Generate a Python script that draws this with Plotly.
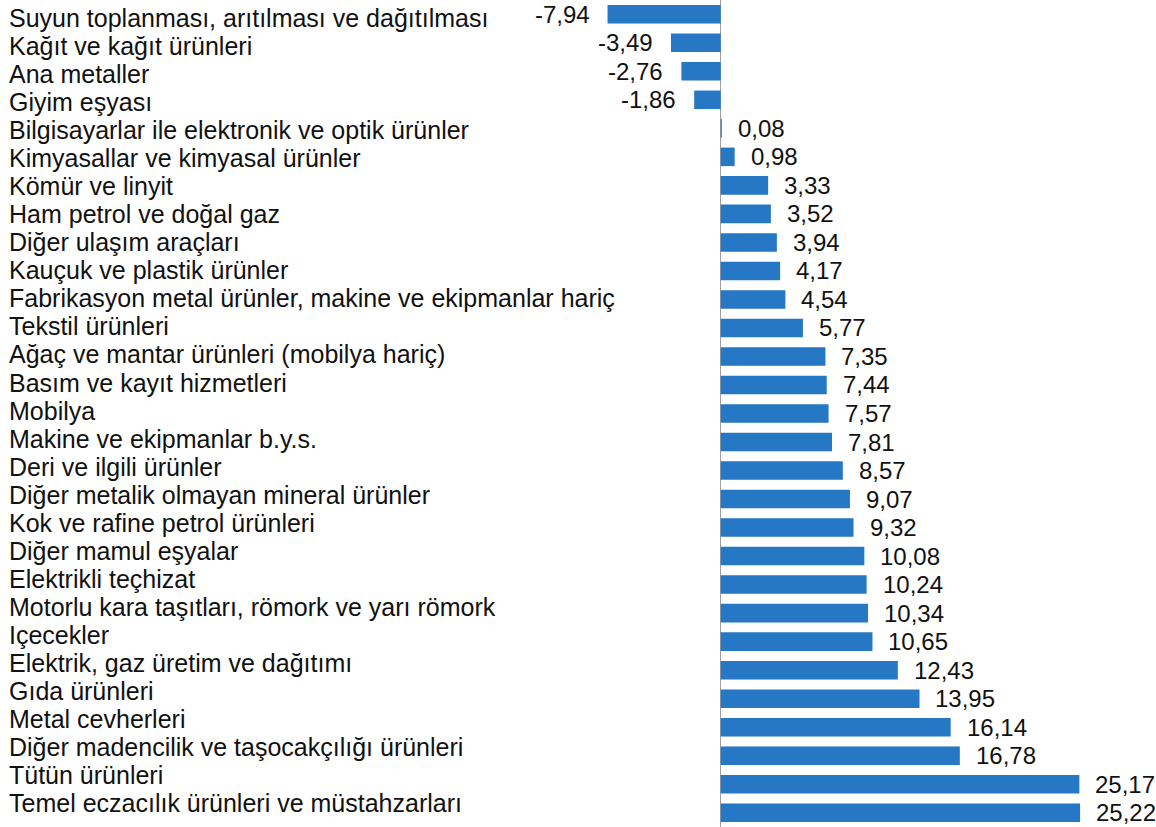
import plotly.graph_objects as go

categories = [
    "Suyun toplanması, arıtılması ve dağıtılması",
    "Kağıt ve kağıt ürünleri",
    "Ana metaller",
    "Giyim eşyası",
    "Bilgisayarlar ile elektronik ve optik ürünler",
    "Kimyasallar ve kimyasal ürünler",
    "Kömür ve linyit",
    "Ham petrol ve doğal gaz",
    "Diğer ulaşım araçları",
    "Kauçuk ve plastik ürünler",
    "Fabrikasyon metal ürünler, makine ve ekipmanlar hariç",
    "Tekstil ürünleri",
    "Ağaç ve mantar ürünleri (mobilya hariç)",
    "Basım ve kayıt hizmetleri",
    "Mobilya",
    "Makine ve ekipmanlar b.y.s.",
    "Deri ve ilgili ürünler",
    "Diğer metalik olmayan mineral ürünler",
    "Kok ve rafine petrol ürünleri",
    "Diğer mamul eşyalar",
    "Elektrikli teçhizat",
    "Motorlu kara taşıtları, römork ve yarı römork",
    "Içecekler",
    "Elektrik, gaz üretim ve dağıtımı",
    "Gıda ürünleri",
    "Metal cevherleri",
    "Diğer madencilik ve taşocakçılığı ürünleri",
    "Tütün ürünleri",
    "Temel eczacılık ürünleri ve müstahzarları",
]
values = [-7.94, -3.49, -2.76, -1.86, 0.08, 0.98, 3.33, 3.52, 3.94, 4.17,
          4.54, 5.77, 7.35, 7.44, 7.57, 7.81, 8.57, 9.07, 9.32, 10.08,
          10.24, 10.34, 10.65, 12.43, 13.95, 16.14, 16.78, 25.17, 25.22]

FONT = "Arial, Liberation Sans, sans-serif"
BAR_COLOR = "#2677C4"
n = len(categories)
idx = list(range(n))

fig = go.Figure()
fig.add_trace(go.Bar(
    x=values, y=idx, orientation="h",
    marker=dict(color=BAR_COLOR, line=dict(width=0)),
    hoverinfo="skip", showlegend=False,
))

annotations = []
# value labels
for i, v in enumerate(values):
    txt = f"{v:.2f}".replace(".", ",")
    annotations.append(dict(
        x=v, y=i, xref="x", yref="y", text=txt, showarrow=False,
        xanchor="left" if v >= 0 else "right",
        xshift=14 if v >= 0 else -16, yshift=0,
        font=dict(family=FONT, size=24, color="#111111"),
    ))
# category labels (left aligned)
for i, c in enumerate(categories):
    annotations.append(dict(
        x=0, y=i, xref="paper", yref="y2", text=c, showarrow=False,
        xanchor="left", xshift=7, yanchor="middle",
        font=dict(family=FONT, size=25, color="#111111"),
    ))

px_per_row_lab = 28.04
lab_r0 = -18.0 / px_per_row_lab
lab_r1 = lab_r0 + 827.0 / px_per_row_lab

scale = 14.25
zero_px = 720.7
x_lo = -zero_px / scale
x_hi = (1156 - zero_px) / scale

fig.update_layout(
    width=1156, height=827,
    margin=dict(l=0, r=0, t=0, b=0),
    paper_bgcolor="white", plot_bgcolor="white",
    bargap=0.35,
    xaxis=dict(range=[x_lo, x_hi], showgrid=False, showticklabels=False,
               ticks="", zeroline=True, zerolinecolor="#a0a0a0",
               zerolinewidth=1.5, showline=False),
    yaxis=dict(range=[n - 0.5, -0.5], showgrid=False, showticklabels=False,
               ticks="", zeroline=False, showline=False),
    yaxis2=dict(range=[lab_r1, lab_r0], overlaying="y", showgrid=False,
                showticklabels=False, ticks="", zeroline=False,
                showline=False, visible=False),
    annotations=annotations,
)

fig.write_html(
    "out.html",
    config={"displayModeBar": False, "staticPlot": True},
    post_script="document.body.style.margin='0px';document.body.style.overflow='hidden';",
)
